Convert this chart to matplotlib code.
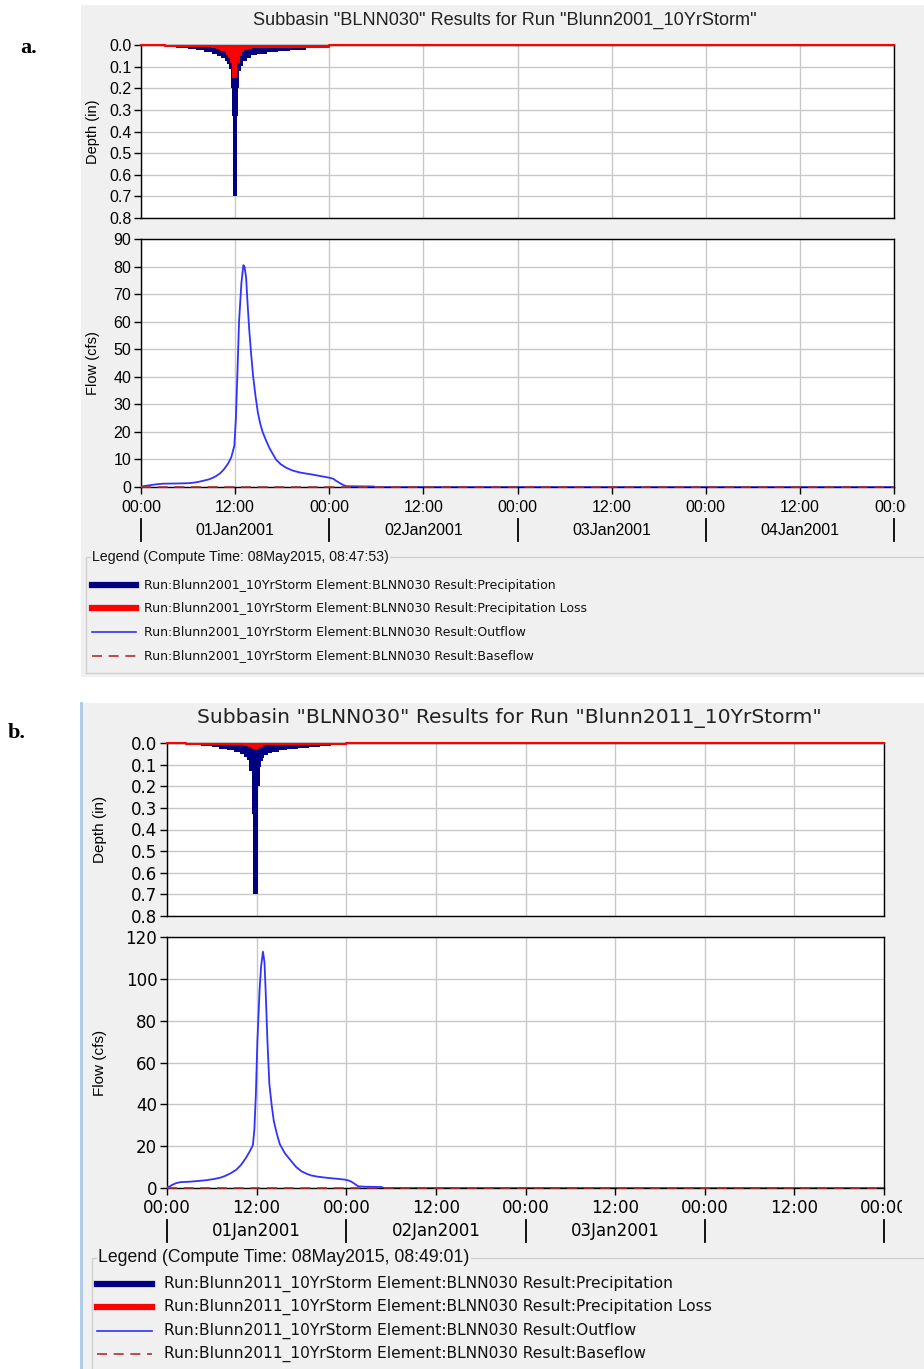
import matplotlib.pyplot as plt
from matplotlib.lines import Line2D
from matplotlib.patches import Rectangle
from matplotlib.transforms import Bbox, blended_transform_factory
import numpy as np

W, H = 924, 1369

# ---- data: panel a (2001 land use) ----
precip_a_t = [3.0, 4.5, 6.0, 7.0, 8.0, 9.0, 9.75, 10.25, 10.75, 11.0, 11.25, 11.5, 11.62,
              11.7, 12.2, 12.33, 12.5, 12.75, 13.0, 13.5, 14.0, 14.75, 16.0, 17.5, 19.0,
              21.0, 22.5, 24.0]
precip_a = [0.010, 0.015, 0.020, 0.025, 0.032, 0.040, 0.050, 0.060, 0.075, 0.090, 0.110,
            0.200, 0.330, 0.700, 0.330, 0.200, 0.120, 0.095, 0.075, 0.060, 0.048, 0.040,
            0.034, 0.028, 0.022, 0.016, 0.012]
loss_a_t = [3.0, 9.0, 9.75, 10.25, 10.75, 11.0, 11.25, 11.5, 11.75, 12.17, 12.5, 12.75,
            13.0, 13.5, 14.0, 24.0]
loss_a = [0.006, 0.010, 0.015, 0.022, 0.030, 0.040, 0.055, 0.080, 0.150, 0.080, 0.045,
          0.030, 0.020, 0.012, 0.007]
flow_a_t = [0, 0.5, 1.3, 2.0, 2.8, 4.0, 5.0, 6.2, 7.0, 7.4, 8.0, 8.7, 9.2, 9.6, 10.1, 10.6,
            11.1, 11.5, 11.9, 12.1, 12.3, 12.5, 12.8, 13.05, 13.2, 13.4, 13.6, 13.8, 14.05,
            14.3, 14.6, 14.9, 15.2, 15.5, 16.0, 16.4, 17.2, 17.8, 18.5, 19.3, 20.2, 21.0,
            21.9, 22.8, 23.6, 24.1, 24.5, 24.9, 25.3, 25.8, 26.2, 27.5, 29.6, 30.0, 96.0]
flow_a = [0.2, 0.4, 0.7, 1.0, 1.2, 1.25, 1.3, 1.4, 1.7, 1.9, 2.3, 2.8, 3.4, 4.0, 5.0, 6.5,
          8.5, 10.7, 15, 25, 42, 60, 74, 80.5, 80, 76, 66, 57, 48, 40, 33, 27, 23, 20, 16.5,
          14, 10, 8.3, 7, 6, 5.3, 4.9, 4.5, 4.0, 3.6, 3.3, 3.0, 2.2, 1.5, 0.7, 0.3, 0.25,
          0.2, 0.0, 0.0]

# ---- data: panel b (2011 land use) ----
precip_b_t = [2.5, 4.5, 6.0, 7.0, 8.0, 9.0, 9.75, 10.25, 10.75, 11.0, 11.33, 11.5,
              12.17, 12.42, 12.6, 12.8, 13.0, 13.5, 14.0, 15.0, 16.0, 17.5, 19.0, 20.5,
              22.0, 24.0]
precip_b = [0.010, 0.015, 0.020, 0.026, 0.033, 0.042, 0.052, 0.065, 0.080, 0.130,
            0.330, 0.700, 0.200, 0.110, 0.085, 0.068, 0.055, 0.046, 0.040, 0.034, 0.030,
            0.024, 0.019, 0.014, 0.011]
loss_b_t = [2.5, 10.25, 11.0, 11.5, 12.17, 12.75, 13.5, 24.0]
loss_b = [0.003, 0.008, 0.012, 0.025, 0.012, 0.006, 0.003]
flow_b_t = [0, 0.3, 0.7, 1.2, 1.8, 3.0, 4.0, 5.2, 6.3, 7.2, 7.8, 8.5, 9.3, 9.9, 10.5, 11.0,
            11.5, 11.7, 11.9, 12.1, 12.4, 12.6, 12.85, 13.05, 13.2, 13.45, 13.7, 14.0, 14.3,
            14.7, 15.1, 15.8, 16.6, 17.3, 18.0, 18.7, 19.3, 20.2, 21.6, 22.8, 23.8, 24.3,
            24.7, 25.2, 25.6, 26.5, 28.7, 29.0, 96.0]
flow_b = [0.5, 0.6, 1.5, 2.3, 2.8, 3.0, 3.3, 3.7, 4.3, 5.0, 5.8, 7.0, 8.8, 11, 14, 17, 20.5,
          28, 45, 70, 95, 106, 113, 108, 95, 70, 50, 40, 32, 26, 21, 16.5, 13, 10, 8, 6.8,
          6, 5.4, 4.8, 4.4, 4.0, 3.6, 3.0, 1.8, 0.8, 0.6, 0.5, 0.0, 0.0]

baseflow_t = [0, 96]
baseflow = [0, 0]

time_ticks = [0, 12, 24, 36, 48, 60, 72, 84, 96]
time_labels = ["00:00", "12:00"] * 4 + ["00:00"]
day_edges = [0, 24, 48, 72, 96]
day_labels_a = ["01Jan2001", "02Jan2001", "03Jan2001", "04Jan2001"]
day_labels_b = ["01Jan2001", "02Jan2001", "03Jan2001"]

NAVY = "#000080"
RED = "#ff0000"
BLUE = "#3232ff"
BASE = "#b03030"
GRID = "#c8c8c8"
BG = "#f0f0f0"

fig = plt.figure(figsize=(W / 100, H / 100), dpi=100)
fig.patch.set_facecolor("white")


def rect(l, t, r, b):
    return [l / W, 1 - b / H, (r - l) / W, (b - t) / H]


def fx(x):
    return x / W


def fy(y):
    return 1 - y / H


def panel(cfg):
    font = cfg["font"]
    # screenshot background
    bx0, by0, bx1, by1 = cfg["bg"]
    fig.patches.append(Rectangle((fx(bx0), fy(by1)), fx(bx1 - bx0), (by1 - by0) / H,
                                 transform=fig.transFigure, facecolor=BG,
                                 edgecolor="none", zorder=-5))
    fig.text(fx(cfg["title_xy"][0]), fy(cfg["title_xy"][1]), cfg["title"],
             ha="center", va="center", fontsize=cfg["title_fs"], family=font,
             color="#222222")

    l, r = cfg["xlr"]
    t1, b1, t2, b2 = cfg["ys"]
    axd = fig.add_axes(rect(l, t1, r, b1))
    axf = fig.add_axes(rect(l, t2, r, b2))

    # depth panel (hyetograph hanging from the top)
    pt = cfg["precip_t"]
    pv = list(cfg["precip"]) + [cfg["precip"][-1]]
    axd.fill_between(pt, pv, step="post", color=NAVY, lw=0, zorder=3)
    lt = cfg["loss_t"]
    lv = list(cfg["loss"]) + [cfg["loss"][-1]]
    axd.fill_between(lt, lv, step="post", color=RED, lw=0, zorder=4)
    axd.step([0] + list(lt) + [96], [0] + list(cfg["loss"]) + [0, 0], where="post",
             color=RED, lw=1.5, zorder=5, clip_on=False)
    axd.set_ylim(0.8, 0.0)
    axd.set_yticks(np.arange(0, 0.81, 0.1))
    axd.set_yticklabels(["%.1f" % v for v in np.arange(0, 0.81, 0.1)])
    axd.set_ylabel("Depth (in)", family="Liberation Sans", fontsize=cfg["lab_fs"])

    # flow panel
    axf.plot(cfg["flow_t"], cfg["flow"], color=BLUE, lw=1.3, zorder=3)
    axf.plot(baseflow_t, baseflow, color=BASE, lw=1.2, ls=(0, (6, 4)), zorder=4,
             clip_on=False)
    axf.set_ylim(0, cfg["fmax"])
    axf.set_yticks(np.arange(0, cfg["fmax"] + 1, cfg["fstep"]))
    axf.set_ylabel("Flow (cfs)", family="Liberation Sans", fontsize=cfg["lab_fs"])

    for ax in (axd, axf):
        ax.set_facecolor("white")
        ax.set_xlim(0, 96)
        ax.set_xticks(time_ticks)
        ax.grid(True, color=GRID, lw=1)
        ax.set_axisbelow(True)
        ax.yaxis.set_label_coords(cfg["lab_x"], 0.5)
        for s in ax.spines.values():
            s.set_color("black")
            s.set_linewidth(1)
        ax.tick_params(axis="y", direction="out", length=5, width=1,
                       labelsize=cfg["tick_fs"], pad=2)
        for lab in ax.get_yticklabels():
            lab.set_family(font)
    axd.tick_params(axis="x", length=0, labelbottom=False)
    axf.tick_params(axis="x", direction="out", length=5, width=1, labelbottom=False)

    # time labels and day row
    tr = blended_transform_factory(axf.transData, fig.transFigure)
    clip = Bbox.from_extents(0, 0, cfg["clip_x"], H)
    for tk, tl in zip(time_ticks, time_labels):
        txt = fig.text(0, 0, tl, ha="center", va="center",
                       fontsize=cfg["tick_fs"], family=font)
        txt.set_transform(tr)
        txt.set_position((tk, fy(cfg["tick_y"])))
        txt.set_clip_box(clip)
        txt.set_clip_on(True)
    for d0, d1, dl in zip(day_edges[:-1], day_edges[1:], cfg["days"]):
        axf.text((d0 + d1) / 2, fy(cfg["day_y"]), dl, transform=tr, ha="center",
                 va="center", fontsize=cfg["tick_fs"], family=font)
    for de in day_edges:
        axf.plot([de, de], [fy(cfg["day_y"] - 11), fy(cfg["day_y"] + 11)], transform=tr,
                 color="black", lw=1.3, clip_on=False)

    # legend box
    lx, ly = cfg["leg_box"]
    lb = cfg["leg_bottom"]
    fig.lines.append(Line2D([fx(lx), fx(lx), fx(W)], [fy(lb), fy(ly), fy(ly)],
                            transform=fig.transFigure, color="#d0d0d0", lw=1))
    if lb < H:
        fig.lines.append(Line2D([fx(lx), fx(W)], [fy(lb)] * 2,
                                transform=fig.transFigure, color="#d0d0d0", lw=1))
    fig.text(fx(cfg["leg_title_x"]), fy(ly), cfg["leg_title"], ha="left", va="center",
             fontsize=cfg["legt_fs"], family="Liberation Sans", color="#111111",
             bbox=dict(facecolor=BG, edgecolor="none", pad=1))
    styles = [dict(color=NAVY, lw=4.5), dict(color=RED, lw=4.5), dict(color=BLUE, lw=1.2),
              dict(color=BASE, lw=1.2, ls=(0, (6, 4)))]
    hx0, hx1, tx = cfg["leg_x"]
    for yy, st, name in zip(cfg["leg_y"], styles, cfg["leg_names"]):
        fig.lines.append(Line2D([fx(hx0), fx(hx1)], [fy(yy)] * 2,
                                transform=fig.transFigure, **st))
        fig.text(fx(tx), fy(yy), name, ha="left", va="center", fontsize=cfg["leg_fs"],
                 family="DejaVu Sans", color="#111111")


names_a = ["Run:Blunn2001_10YrStorm Element:BLNN030 Result:" + s
           for s in ["Precipitation", "Precipitation Loss", "Outflow", "Baseflow"]]
names_b = ["Run:Blunn2011_10YrStorm Element:BLNN030 Result:" + s
           for s in ["Precipitation", "Precipitation Loss", "Outflow", "Baseflow"]]

panel(dict(font="Liberation Sans", bg=(81, 5, W, 677), title_xy=(505, 20),
           title="Subbasin \"BLNN030\" Results for Run \"Blunn2001_10YrStorm\"",
           title_fs=13.1, xlr=(141, 894), ys=(45, 218, 239, 487),
           precip_t=precip_a_t, precip=precip_a, loss_t=loss_a_t, loss=loss_a,
           flow_t=flow_a_t, flow=flow_a, fmax=90, fstep=10,
           lab_fs=10.5, lab_x=-0.055, tick_fs=11.5, tick_y=507, day_y=530, clip_x=906,
           days=day_labels_a, leg_box=(86, 557), leg_bottom=673,
           leg_title_x=92, leg_title="Legend (Compute Time: 08May2015, 08:47:53)",
           legt_fs=10.2, leg_x=(92, 136, 144), leg_y=[585, 608, 632, 656],
           leg_names=names_a, leg_fs=9.0))

panel(dict(font="DejaVu Sans", bg=(82, 703, W, H), title_xy=(509, 718),
           title="Subbasin \"BLNN030\" Results for Run \"Blunn2011_10YrStorm\"",
           title_fs=14.6, xlr=(167, 884), ys=(743, 916, 937, 1188),
           precip_t=precip_b_t, precip=precip_b, loss_t=loss_b_t, loss=loss_b,
           flow_t=flow_b_t, flow=flow_b, fmax=120, fstep=20,
           lab_fs=11, lab_x=-0.083, tick_fs=12, tick_y=1208, day_y=1231, clip_x=902,
           days=day_labels_b, leg_box=(92, 1258), leg_bottom=H,
           leg_title_x=98, leg_title="Legend (Compute Time: 08May2015, 08:49:01)",
           legt_fs=12.7, leg_x=(97, 152, 164), leg_y=[1284, 1307, 1331, 1354],
           leg_names=names_b, leg_fs=11.2))

# light blue window edge of the second screenshot
fig.lines.append(Line2D([fx(81), fx(81)], [fy(703), fy(H)], transform=fig.transFigure,
                        color="#a9c9ea", lw=2))

fig.text(fx(20), fy(48), "a.", fontsize=16, fontweight="bold", family="Liberation Serif",
         ha="left", va="center")
fig.text(fx(8), fy(733), "b.", fontsize=16, fontweight="bold", family="Liberation Serif",
         ha="left", va="center")

fig.savefig("out.png", dpi=100)
